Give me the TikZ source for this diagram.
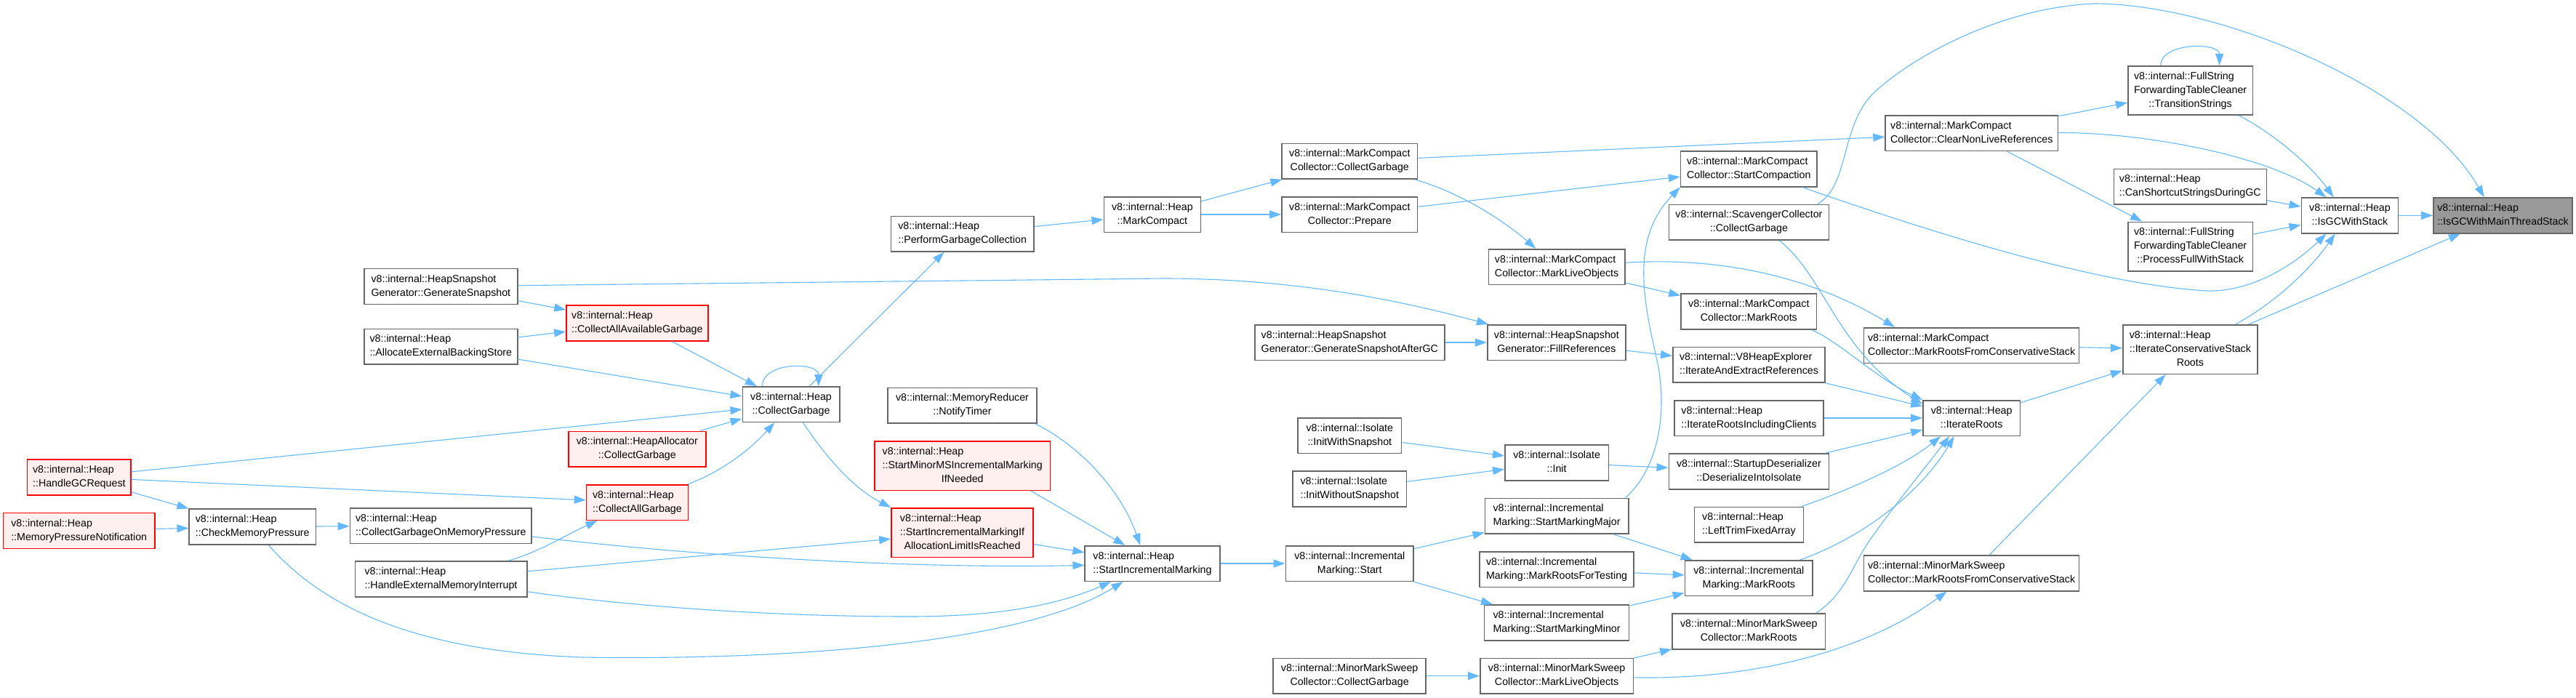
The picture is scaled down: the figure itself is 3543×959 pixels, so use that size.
\documentclass[tikz,border=0pt]{standalone}
\usepackage{fontspec}
\setmainfont{Liberation Sans}
\usetikzlibrary{arrows.meta,calc}
\definecolor{edgeblue}{HTML}{63B8FF}
\definecolor{boxgray}{HTML}{666666}
\definecolor{rootfill}{HTML}{999999}
\definecolor{redfill}{HTML}{FFF0F0}
\newcommand{\twol}[2]{\begin{tabular}{@{}l@{}}#1\\\multicolumn{1}{@{}c@{}}{#2}\end{tabular}}
\newcommand{\threel}[3]{\begin{tabular}{@{}l@{}}#1\\#2\\\multicolumn{1}{@{}c@{}}{#3}\end{tabular}}
\newcommand{\bx}[7]{\node[#1, minimum width={(#4-#3)*0.5pt}, minimum height={(#6-#5)*0.5pt}] (#2) at ({(#3+#4)/2},{(#5+#6)/2}) {#7};}
\begin{document}
\begin{tikzpicture}[x=0.5pt,y=-0.5pt,
  base/.style={inner sep=0pt, line width=0.8pt, font=\fontsize{7.125}{9.5}\selectfont, text=black},
  gbox/.style={base, draw=boxgray, fill=white},
  rbox/.style={base, draw=red, fill=redfill},
  rootbox/.style={base, draw=boxgray, fill=rootfill},
  conn/.style={draw=edgeblue, line width=0.55pt, -{Triangle[length=8pt,width=5.5pt]}}]
\useasboundingbox (0,0) rectangle (3543,959);

\bx{rbox}{hgc}{37.5}{180.2}{631.7}{680.7}{\twol{v8::internal::Heap}{::HandleGCRequest}}
\bx{rbox}{mpn}{4.6}{212.8}{705.3}{754.3}{\twol{v8::internal::Heap}{::MemoryPressureNotification}}
\bx{gbox}{cmp}{260.2}{434.3}{700}{749}{\twol{v8::internal::Heap}{::CheckMemoryPressure}}
\bx{gbox}{gs}{501}{711.7}{369.3}{418.3}{\twol{v8::internal::HeapSnapshot}{Generator::GenerateSnapshot}}
\bx{gbox}{aebs}{501}{711.7}{452.3}{501}{\twol{v8::internal::Heap}{::AllocateExternalBackingStore}}
\bx{gbox}{cgomp}{481.4}{731.2}{698.7}{747.3}{\twol{v8::internal::Heap}{::CollectGarbageOnMemoryPressure}}
\bx{gbox}{hemi}{488.3}{724.7}{772}{820.7}{\twol{v8::internal::Heap}{::HandleExternalMemoryInterrupt}}
\bx{rbox}{caag}{779}{973.8}{420}{468.7}{\twol{v8::internal::Heap}{::CollectAllAvailableGarbage}}
\bx{gbox}{cg}{1021.3}{1154.8}{532}{580.3}{\twol{v8::internal::Heap}{::CollectGarbage}}
\bx{rbox}{hacg}{782}{970.7}{593.3}{642}{\twol{v8::internal::HeapAllocator}{::CollectGarbage}}
\bx{rbox}{cag}{806.6}{946.3}{666.7}{715.3}{\twol{v8::internal::Heap}{::CollectAllGarbage}}
\bx{gbox}{pgc}{1225.5}{1421.8}{297.3}{346}{\twol{v8::internal::Heap}{::PerformGarbageCollection}}
\bx{gbox}{mc}{1518.3}{1651.4}{270.7}{319.3}{\twol{v8::internal::Heap}{::MarkCompact}}
\bx{gbox}{nt}{1221}{1426}{533.3}{582}{\twol{v8::internal::MemoryReducer}{::NotifyTimer}}
\bx{rbox}{smms}{1203}{1444.4}{606.7}{674.3}{\threel{v8::internal::Heap}{::StartMinorMSIncrementalMarking}{IfNeeded}}
\bx{rbox}{simal}{1226}{1421}{698.7}{766.3}{\threel{v8::internal::Heap}{::StartIncrementalMarkingIf}{AllocationLimitIsReached}}
\bx{gbox}{sim}{1492.2}{1677.8}{750.7}{799.3}{\twol{v8::internal::Heap}{::StartIncrementalMarking}}
\bx{gbox}{mccg}{1763}{1949.6}{197.3}{246}{\twol{v8::internal::MarkCompact}{Collector::CollectGarbage}}
\bx{gbox}{mcp}{1763}{1949.6}{270.7}{319.3}{\twol{v8::internal::MarkCompact}{Collector::Prepare}}
\bx{gbox}{gsagc}{1725.7}{1986.9}{446.7}{495.3}{\twol{v8::internal::HeapSnapshot}{Generator::GenerateSnapshotAfterGC}}
\bx{gbox}{iws}{1785}{1927.6}{574.7}{623.3}{\twol{v8::internal::Isolate}{::InitWithSnapshot}}
\bx{gbox}{iwos}{1777.9}{1934.6}{648}{696.7}{\twol{v8::internal::Isolate}{::InitWithoutSnapshot}}
\bx{gbox}{ims}{1768.4}{1944.2}{750.7}{799.3}{\twol{v8::internal::Incremental}{Marking::Start}}
\bx{gbox}{mmscg}{1751}{1961.2}{905.3}{954}{\twol{v8::internal::MinorMarkSweep}{Collector::CollectGarbage}}
\bx{gbox}{mlo}{2047.4}{2234.8}{342.7}{391.3}{\twol{v8::internal::MarkCompact}{Collector::MarkLiveObjects}}
\bx{gbox}{fr}{2045.7}{2236}{446.7}{495.3}{\twol{v8::internal::HeapSnapshot}{Generator::FillReferences}}
\bx{gbox}{init}{2069.8}{2212.4}{612}{660.7}{\twol{v8::internal::Isolate}{::Init}}
\bx{gbox}{smmaj}{2042.4}{2239.7}{685.3}{734}{\twol{v8::internal::Incremental}{Marking::StartMarkingMajor}}
\bx{gbox}{mrft}{2035}{2247.2}{758.7}{807.3}{\twol{v8::internal::Incremental}{Marking::MarkRootsForTesting}}
\bx{gbox}{smmin}{2041.6}{2240.6}{832}{880.7}{\twol{v8::internal::Incremental}{Marking::StartMarkingMinor}}
\bx{gbox}{mmlo}{2035.8}{2246.4}{905.3}{954}{\twol{v8::internal::MinorMarkSweep}{Collector::MarkLiveObjects}}
\bx{gbox}{sc}{2311.6}{2499}{208}{256.7}{\twol{v8::internal::MarkCompact}{Collector::StartCompaction}}
\bx{gbox}{scg}{2295.3}{2515.6}{281.3}{330}{\twol{v8::internal::ScavengerCollector}{::CollectGarbage}}
\bx{gbox}{mcmr}{2312}{2498.6}{404}{452.7}{\twol{v8::internal::MarkCompact}{Collector::MarkRoots}}
\bx{gbox}{iaer}{2300.8}{2510.2}{477.3}{526}{\twol{v8::internal::V8HeapExplorer}{::IterateAndExtractReferences}}
\bx{gbox}{iric}{2302.9}{2508.1}{550.7}{599.3}{\twol{v8::internal::Heap}{::IterateRootsIncludingClients}}
\bx{gbox}{dii}{2295.3}{2515.6}{624}{672.7}{\twol{v8::internal::StartupDeserializer}{::DeserializeIntoIsolate}}
\bx{gbox}{ltfa}{2330.6}{2480.3}{697.3}{746}{\twol{v8::internal::Heap}{::LeftTrimFixedArray}}
\bx{gbox}{imr}{2317.5}{2493.2}{770.7}{819.3}{\twol{v8::internal::Incremental}{Marking::MarkRoots}}
\bx{gbox}{mmsmr}{2300}{2510.6}{844}{892.7}{\twol{v8::internal::MinorMarkSweep}{Collector::MarkRoots}}
\bx{gbox}{cnlr}{2593.1}{2830.6}{158.7}{207.3}{\twol{v8::internal::MarkCompact}{Collector::ClearNonLiveReferences}}
\bx{gbox}{mcmrfcs}{2563.6}{2859.6}{450.7}{499.3}{\twol{v8::internal::MarkCompact}{Collector::MarkRootsFromConservativeStack}}
\bx{gbox}{ir}{2644.9}{2778.4}{550.7}{599.3}{\twol{v8::internal::Heap}{::IterateRoots}}
\bx{gbox}{mmsmrfcs}{2563.6}{2859.6}{764}{812.7}{\twol{v8::internal::MinorMarkSweep}{Collector::MarkRootsFromConservativeStack}}
\bx{gbox}{ts}{2926.7}{3098.5}{90.7}{158}{\threel{v8::internal::FullString}{ForwardingTableCleaner}{::TransitionStrings}}
\bx{gbox}{cssgc}{2907.4}{3117.3}{232.3}{280.7}{\twol{v8::internal::Heap}{::CanShortcutStringsDuringGC}}
\bx{gbox}{pfws}{2926.7}{3098.5}{305.3}{372.7}{\threel{v8::internal::FullString}{ForwardingTableCleaner}{::ProcessFullWithStack}}
\bx{gbox}{icsr}{2919.7}{3105}{446.7}{514.3}{\threel{v8::internal::Heap}{::IterateConservativeStack}{Roots}}
\bx{gbox}{igws}{3165.3}{3298.6}{272}{320.7}{\twol{v8::internal::Heap}{::IsGCWithStack}}
\bx{rootbox}{root}{3347}{3538}{272}{320.7}{\twol{v8::internal::Heap}{::IsGCWithMainThreadStack}}

% connectors
\draw[conn] (hgc) -- (cmp);
\draw[conn] (mpn) -- (cmp);
\draw[conn] (hgc) -- (cg);
\draw[conn] (hgc) -- (cag);
\draw[conn] (cmp) -- (cgomp);
\draw[conn] (cmp) .. controls (440,830) and (560,895) .. (800,904) .. controls (1050,908) and (1400,890) .. (sim);
\draw[conn] (cgomp) .. controls (1000,770) and (1300,782) .. (sim);
\draw[conn] (hemi) .. controls (740,760) and (780,735) .. (cag);
\draw[conn] (hemi) -- (simal);
\draw[conn] (hemi) .. controls (850,832) and (1050,848) .. (1250,848) .. controls (1380,848) and (1460,830) .. (sim);
\draw[conn] (gs) -- (caag);
\draw[conn] (gs) -- (1600,383) .. controls (1800,383) and (1950,420) .. (fr);
\draw[conn] (aebs) -- (caag);
\draw[conn] (aebs) -- (cg);
\draw[conn] (caag) -- (cg);
\draw[conn] (hacg) -- (cg);
\draw[conn] (cag) .. controls (990,650) and (1030,620) .. (cg);
\draw[conn] ([xshift=-19.8pt]cg.north) .. controls +(0,17pt) and +(0,17pt) .. ([xshift=18.9pt]cg.north);
\draw[conn] (cg) -- (pgc);
\draw[conn] (cg) .. controls (1130,620) and (1170,670) .. (simal.north west);
\draw[conn] (pgc) -- (mc);
\draw[conn] (mc) -- (mccg);
\draw[conn] (mc) -- (mcp);
\draw[conn] (mccg) -- (cnlr);
\draw[conn] (mccg) .. controls (2010,265) and (2070,305) .. (mlo);
\draw[conn] (mcp) -- (sc);
\draw[conn] (mlo) -- (mcmr);
\draw[conn] (mlo) .. controls (2420,350) and (2540,410) .. ([xshift=21.6pt]mcmrfcs.north west);
\draw[conn] ([xshift=-10.5pt]sc.south east) .. controls (2700,335) and (2900,392) .. (3035,400) .. controls (3100,402) and (3160,360) .. ([xshift=-16.3pt]igws.south);
\draw[conn] (cnlr) .. controls (2950,182) and (3120,215) .. ([xshift=-16.3pt]igws.north);
\draw[conn] (cnlr) -- (ts);
\draw[conn] (cnlr) -- (pfws);
\draw[conn] ([xshift=-20.4pt]ts.north) .. controls +(0,16pt) and +(0,16pt) .. ([xshift=20pt]ts.north);
\draw[conn] (ts) .. controls (3130,185) and (3180,230) .. ([xshift=-11.2pt]igws.north);
\draw[conn] (cssgc) -- (igws);
\draw[conn] (pfws) -- (igws);
\draw[conn] (igws) -- (root);
\draw[conn] (icsr) .. controls (3140,410) and (3185,360) .. ([xshift=-10.2pt]igws.south);
\draw[conn] (icsr) -- (root);
\draw[conn] ([xshift=-8.3pt]scg.north east) .. controls (2545,255) and (2530,170) .. (2580,125) .. controls (2640,71) and (2760,10) .. (2880,5) .. controls (3050,5) and (3330,120) .. ([xshift=-12.9pt]root.north);
\draw[conn] ([xshift=-4pt]mcmr.south east) .. controls (2530,470) and (2580,520) .. (ir.north west);
\draw[conn] ([xshift=20.8pt]scg.south) .. controls (2510,380) and (2525,480) .. ([yshift=-3pt]ir.north west);
\draw[conn] (iaer) -- (ir);
\draw[conn] (iric) -- (ir);
\draw[conn] (dii) -- (ir);
\draw[conn] (ltfa) .. controls (2540,675) and (2620,640) .. ([xshift=-21.3pt]ir.south);
\draw[conn] (imr) .. controls (2560,740) and (2640,680) .. ([xshift=-12pt]ir.south);
\draw[conn] ([xshift=-6.8pt]mmsmr.north east) .. controls (2540,815) and (2545,780) .. (2575,738) .. controls (2605,696) and (2650,640) .. ([xshift=-15.3pt]ir.south);
\draw[conn] (ir) -- (icsr);
\draw[conn] (mcmrfcs) -- (icsr);
\draw[conn] (mmsmrfcs) -- (icsr);
\draw[conn] ([xshift=-2.45pt]smmaj.north east) .. controls (2275,650) and (2295,580) .. (2280,500) .. controls (2262,420) and (2240,330) .. (sc.south west);
\draw[conn] (smmaj) -- (imr);
\draw[conn] (mrft) -- (imr);
\draw[conn] (smmin) -- (imr);
\draw[conn] (ims) -- (smmaj);
\draw[conn] (ims) -- (smmin);
\draw[conn] (sim) -- (ims);
\draw[conn] (mmscg) -- (mmlo);
\draw[conn] (mmlo) -- (mmsmr);
\draw[conn] (mmlo) .. controls (2400,935) and (2560,900) .. (mmsmrfcs);
\draw[conn] (iws) -- (init);
\draw[conn] (iwos) -- (init);
\draw[conn] (init) -- (dii);
\draw[conn] (gsagc) -- (fr);
\draw[conn] (fr) -- (iaer);
\draw[conn] ([xshift=-1.5pt]nt.south east) .. controls (1480,610) and (1540,670) .. ([xshift=-8.3pt]sim.north);
\draw[conn] ([xshift=-13.7pt]smms.south east) -- ([xshift=-18.8pt]sim.north);
\draw[conn] (simal) -- (sim);
\end{tikzpicture}
\end{document}
